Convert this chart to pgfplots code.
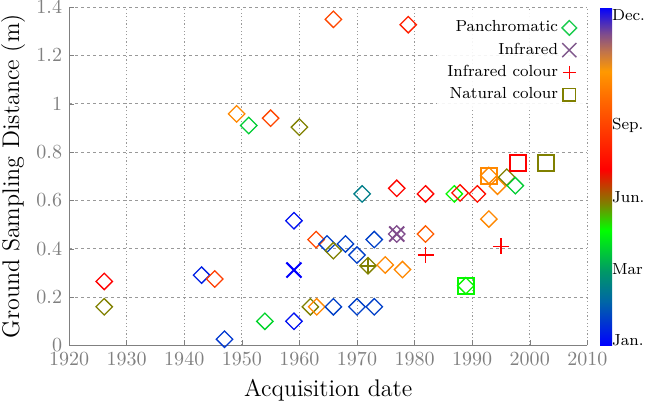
\documentclass[border=0pt]{standalone}
\usepackage{pgfplots}
\pgfplotsset{compat=1.18}
\definecolor{lgreen}{rgb}{0.1,0.8,0.3}
\definecolor{lpurple}{rgb}{0.5,0.35,0.55}
\definecolor{lolive}{rgb}{0.5,0.5,0}
\begin{document}
\begin{tikzpicture}
\begin{axis}[
  name=main,
  scale only axis, width=258.75pt, height=169pt,
  xmin=1920, xmax=2010, ymin=0, ymax=1.4,
  xtick={1920,1930,1940,1950,1960,1970,1980,1990,2000,2010},
  ytick={0,0.2,0.4,0.6,0.8,1,1.2,1.4},
  /pgf/number format/1000 sep={},
  axis x line*=bottom, axis y line*=left,
  axis line style={black!50},
  tick style={black!50}, tick align=inside, major tick length=2.5pt,
  tick label style={text=black!50, font=\normalsize},
  label style={font=\large},
  ylabel style={yshift=-1.3pt},
  grid=major,
  x grid style={black!40, dash pattern=on 0.6pt off 1.2pt},
  y grid style={black!40, dash pattern=on 1.5pt off 1.5pt},
  xlabel={Acquisition date}, ylabel={Ground Sampling Distance (m)},
  point meta min=0, point meta max=1,
  colormap={months}{rgb(0pt)=(0,0,1); rgb(13pt)=(0,0.4,0.65); rgb(22pt)=(0,0.6,0.4); rgb(34pt)=(0,1,0); rgb(42pt)=(0.5,0.5,0); rgb(52pt)=(1,0,0); rgb(72pt)=(1,0.4,0); rgb(81pt)=(1,0.6,0); rgb(87pt)=(0.75,0.45,0.3); rgb(92pt)=(0.5,0.3,0.55); rgb(100pt)=(0,0,1)},
  colorbar,
  colorbar style={at={(parent axis.north east)}, anchor=north west, xshift=-2.2pt,
    width=6pt, scale only axis,
    ytick={0.015,0.225,0.438,0.651,0.976},
    yticklabels={Jan.,Mar,Jun.,Sep.,Dec.},
    major tick length=0pt, axis line style={draw=none}, tick style={draw=none},
    yticklabel style={text=black, font=\footnotesize, xshift=-3.5pt}},
  legend style={at={(1,1)}, anchor=north east, xshift=-2.1pt, yshift=-2.7pt,
    draw=none, fill=white, fill opacity=0.9, text opacity=1, font=\footnotesize},
  legend cell align=right, legend plot pos=right,
]
\addlegendimage{only marks, mark=square, mark size=2.6pt, mark options={rotate=45, line width=0.65pt}, draw=lgreen}
\addlegendentry{Panchromatic}
\addlegendimage{only marks, mark=x, mark size=5pt, mark options={line width=0.7pt}, draw=lpurple}
\addlegendentry{Infrared}
\addlegendimage{only marks, mark=+, mark size=3.2pt, mark options={line width=0.7pt}, draw=red}
\addlegendentry{Infrared colour}
\addlegendimage{only marks, mark=square, mark size=3.2pt, mark options={line width=0.7pt}, draw=lolive}
\addlegendentry{Natural colour}

% Panchromatic
\addplot[scatter, only marks, mark=square, mark size=2.9pt,
  mark options={rotate=45, line width=0.65pt},
  scatter/use mapped color={draw=mapped color},
  point meta=explicit, forget plot] table[meta=m] {
x y m
1926.1 0.265 0.52
1926.1 0.160 0.42
1943.0 0.291 0.04
1945.3 0.275 0.64
1947.0 0.026 0.07
1949.1 0.958 0.78
1951.2 0.910 0.28
1954.0 0.100 0.29
1955.0 0.940 0.66
1959.05 0.516 0.02
1959.05 0.100 0.02
1960.0 0.903 0.42
1961.9 0.160 0.42
1963.0 0.160 0.78
1962.9 0.438 0.66
1964.8 0.420 0.08
1965.9 0.392 0.42
1965.9 0.160 0.08
1965.9 1.349 0.66
1968.0 0.420 0.08
1970.0 0.374 0.08
1970.0 0.160 0.08
1970.9 0.627 0.17
1971.9 0.330 0.42
1973.0 0.438 0.08
1973.0 0.160 0.08
1974.9 0.333 0.78
1976.9 0.461 0.92
1976.9 0.650 0.53
1977.9 0.314 0.78
1978.9 1.327 0.58
1981.9 0.627 0.53
1981.9 0.461 0.70
1986.9 0.627 0.345
1987.9 0.631 0.55
1988.9 0.247 0.345
1990.9 0.627 0.55
1992.9 0.703 0.78
1992.9 0.523 0.78
1994.4 0.659 0.78
1996.0 0.696 0.42
1997.5 0.661 0.28
};
% Infrared
\addplot[scatter, only marks, mark=x, mark size=5.3pt,
  mark options={line width=1pt},
  scatter/use mapped color={draw=mapped color},
  point meta=explicit, forget plot] table[meta=m] {
x y m
1959.05 0.312 0.0
1976.9 0.461 0.92
};
% Infrared colour
\addplot[scatter, only marks, mark=+, mark size=4pt,
  mark options={line width=0.8pt},
  scatter/use mapped color={draw=mapped color},
  point meta=explicit, forget plot] table[meta=m] {
x y m
1971.9 0.330 0.42
1981.9 0.374 0.52
1995.0 0.410 0.52
};
% Natural colour
\addplot[scatter, only marks, mark=square, mark size=4pt,
  mark options={line width=1pt},
  scatter/use mapped color={draw=mapped color},
  point meta=explicit, forget plot] table[meta=m] {
x y m
1988.9 0.247 0.345
1992.9 0.703 0.78
1997.9 0.755 0.52
2002.9 0.755 0.42
};
\end{axis}
\pgfresetboundingbox
\path[use as bounding box] ([xshift=-34.5pt,yshift=-27.5pt]main.south west) rectangle ([xshift=28.8pt,yshift=3.5pt]main.north east);
\end{tikzpicture}
\end{document}
